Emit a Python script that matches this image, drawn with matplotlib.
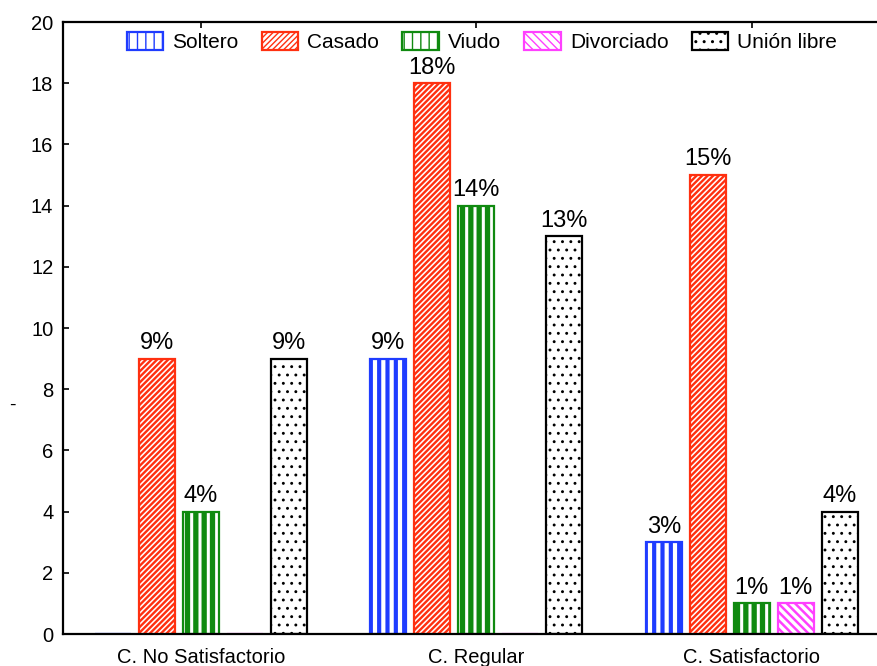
import matplotlib
matplotlib.use("Agg")
import matplotlib.pyplot as plt
import numpy as np

plt.rcParams['font.family'] = ['Liberation Sans', 'DejaVu Sans']

categories = ["C. No Satisfactorio", "C. Regular", "C. Satisfactorio"]
series = ["Soltero", "Casado", "Viudo", "Divorciado", "Unión libre"]
soltero = [0, 9, 3]
casado = [9, 18, 15]
viudo = [4, 14, 1]
divorciado = [0, 0, 1]
union_libre = [9, 13, 4]
values = [soltero, casado, viudo, divorciado, union_libre]

colors = ["#1f3cff", "#ff3010", "#108a10", "#ff40ff", "#000000"]
hatches = ["||", "//////", "||", "\\\\\\\\", ".."]
hatch_lw = [3.0, 1.7, 3.8, 1.8, 0.9]

W, H = 878, 666
fig = plt.figure(figsize=(W / 100, H / 100), dpi=100)
ax = fig.add_axes([63 / W, 32 / H, 826.5 / W, 612 / H])

x = np.arange(len(categories))
step = 44 / 275.5
width = 36 / 275.5
for i, (name, vals) in enumerate(zip(series, values)):
    with plt.rc_context({'hatch.linewidth': hatch_lw[i]}):
        bars = ax.bar(x + (i - 2) * step, vals, width, facecolor="white",
                      edgecolor=colors[i], hatch=hatches[i], linewidth=1.6,
                      label=name, zorder=2)
    for b in bars:
        if hasattr(b, "set_hatch_linewidth"):
            b.set_hatch_linewidth(hatch_lw[i])
    for xi, v in zip(x + (i - 2) * step, vals):
        if v > 0:
            ax.text(xi, v + 0.15, f"{v}%", ha="center", va="bottom", fontsize=17)

ax.set_xlim(-0.5, 2.5)
ax.set_ylim(0, 20)
ax.set_yticks(range(0, 21, 2))
ax.set_xticks(x)
ax.set_xticklabels(categories, fontsize=14.5)
ax.tick_params(axis="y", labelsize=14.5, direction="in", length=4, width=1.2, pad=7)
ax.tick_params(axis="x", direction="in", length=4, width=1.2, top=True, pad=10)
ax.set_ylabel("-", fontsize=14, rotation=0, ha="center", va="center")
ax.yaxis.set_label_coords((12 - 63) / 826.5, (634 - 405) / 612)
for s in ax.spines.values():
    s.set_linewidth(1.6)

leg = ax.legend(loc="center left", bbox_to_anchor=(0.077, (634 - 42) / 612), ncol=5,
                frameon=False, fontsize=15, handlelength=1.75, handleheight=1.0,
                columnspacing=1.1, handletextpad=0.45, borderpad=0, borderaxespad=0)

fig.savefig("out.png", dpi=100)
